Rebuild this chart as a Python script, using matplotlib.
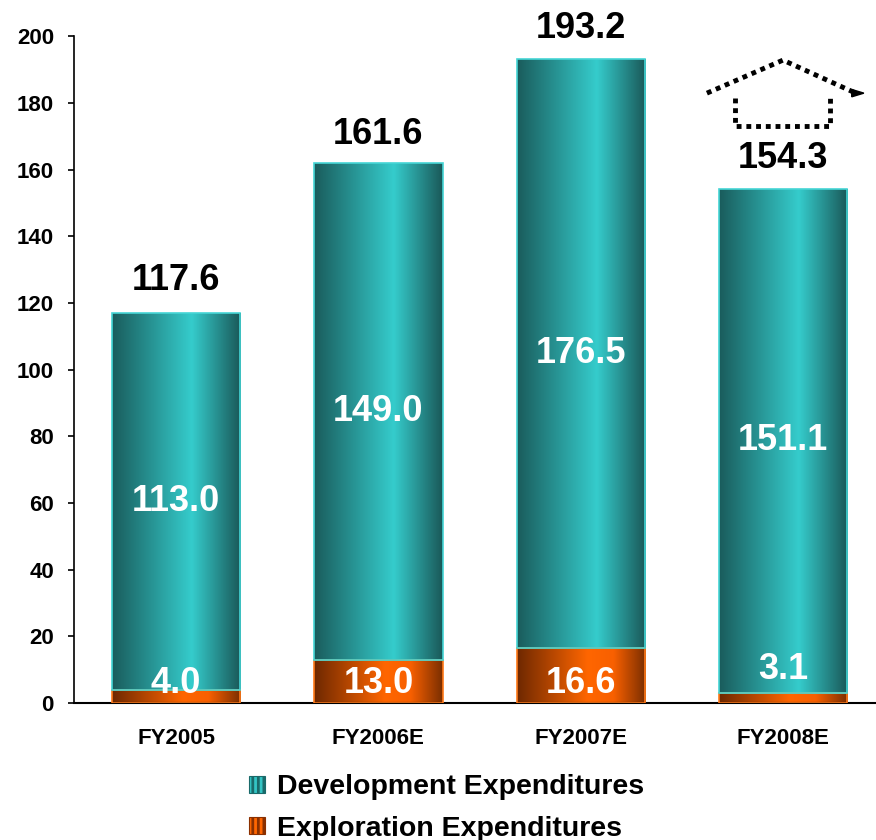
import numpy as np
import matplotlib
matplotlib.use("Agg")
import matplotlib.pyplot as plt
from matplotlib.colors import LinearSegmentedColormap
from matplotlib.patches import Patch

years = ["FY2005", "FY2006E", "FY2007E", "FY2008E"]
exploration = [4.0, 13.0, 16.6, 3.1]
development = [113.0, 149.0, 176.5, 151.1]
totals = [117.6, 161.6, 193.2, 154.3]

plt.rcParams['font.family'] = ['Liberation Sans', 'DejaVu Sans']
plt.rcParams['font.weight'] = 'bold'
plt.rcParams['hatch.linewidth'] = 2.0

teal_cmap = LinearSegmentedColormap.from_list(
    "teal", [(0.0, "#1a5c5c"), (0.62, "#35cccc"), (1.0, "#1a5858")])
orange_cmap = LinearSegmentedColormap.from_list(
    "orange", [(0.0, "#6e2800"), (0.55, "#ff6600"), (0.75, "#f86000"), (1.0, "#7a2e00")])

fig = plt.figure(figsize=(8.76, 8.4), dpi=100)
ax = fig.add_axes([0.0845, 0.163, 0.9155, 0.794])

width = 0.634
grad = np.linspace(0, 1, 256).reshape(1, -1)
x = np.arange(len(years))

for i in x:
    left = i - width / 2
    # exploration segment
    ax.imshow(grad, cmap=orange_cmap, aspect='auto', interpolation='bicubic',
              extent=[left, left + width, 0, exploration[i]], zorder=2)
    ax.add_patch(plt.Rectangle((left, 0), width, exploration[i], fill=False,
                               edgecolor="#ff7a1a", lw=1.2, zorder=3))
    # development segment
    top = exploration[i] + development[i]
    ax.imshow(grad, cmap=teal_cmap, aspect='auto', interpolation='bicubic',
              extent=[left, left + width, exploration[i], top], zorder=2)
    ax.add_patch(plt.Rectangle((left, exploration[i]), width, development[i], fill=False,
                               edgecolor="#45d6d6", lw=1.2, zorder=3))

    ax.text(i, exploration[i] + development[i] / 2, f"{development[i]:.1f}",
            ha='center', va='center', color='white', fontsize=26, fontweight='bold', zorder=4)
    ey = 10 if exploration[i] < 4 else 6.0
    ax.text(i, ey, f"{exploration[i]:.1f}", ha='center', va='center', color='white',
            fontsize=26, fontweight='bold', zorder=4)
    ax.text(i, totals[i] + 9.0, f"{totals[i]:.1f}", ha='center', va='center', color='black',
            fontsize=26, fontweight='bold', clip_on=False, zorder=4)

# dotted "house" arrow above the last bar
ax.plot([2.624, 3.0, 3.36], [182.9, 192.8, 182.9], ls=(0, (1, 1)), color='black', lw=3.5,
        clip_on=False, zorder=4)
ax.plot([2.762, 2.762, 3.233, 3.233], [181.4, 173.0, 173.0, 181.4], ls=(0, (1, 1)),
        color='black', lw=3.5, clip_on=False, zorder=4)
ax.fill([3.34, 3.40, 3.34], [184.0, 182.9, 181.8], color='black', clip_on=False, zorder=4)

ax.set_xlim(-0.505, 3.46)
ax.set_ylim(0, 200)
ax.set_yticks(range(0, 201, 20))
ax.set_xticks(x)
ax.set_xticklabels(years, fontsize=16, fontweight='bold')
ax.tick_params(axis='x', length=0, pad=18)
ax.tick_params(axis='y', length=4.5, width=1.2, labelsize=16, pad=10)
for lab in ax.get_yticklabels():
    lab.set_fontweight('bold')
ax.spines['top'].set_visible(False)
ax.spines['right'].set_visible(False)
ax.spines['left'].set_linewidth(1.2)
ax.spines['bottom'].set_linewidth(1.5)

handles = [Patch(facecolor="#33c4c4", edgecolor="#1a6a6a", hatch='|||', lw=0.8,
                 label="Development Expenditures"),
           Patch(facecolor="#ff6600", edgecolor="#8a3000", hatch='|||', lw=0.8,
                 label="Exploration Expenditures")]
fig.legend(handles=handles, loc='center', bbox_to_anchor=(0.51, 0.038), frameon=False,
           prop={'size': 20.5, 'weight': 'bold'}, handlelength=0.55, handleheight=0.55,
           handletextpad=0.45, labelspacing=0.55)

fig.savefig("out.png", dpi=100)
